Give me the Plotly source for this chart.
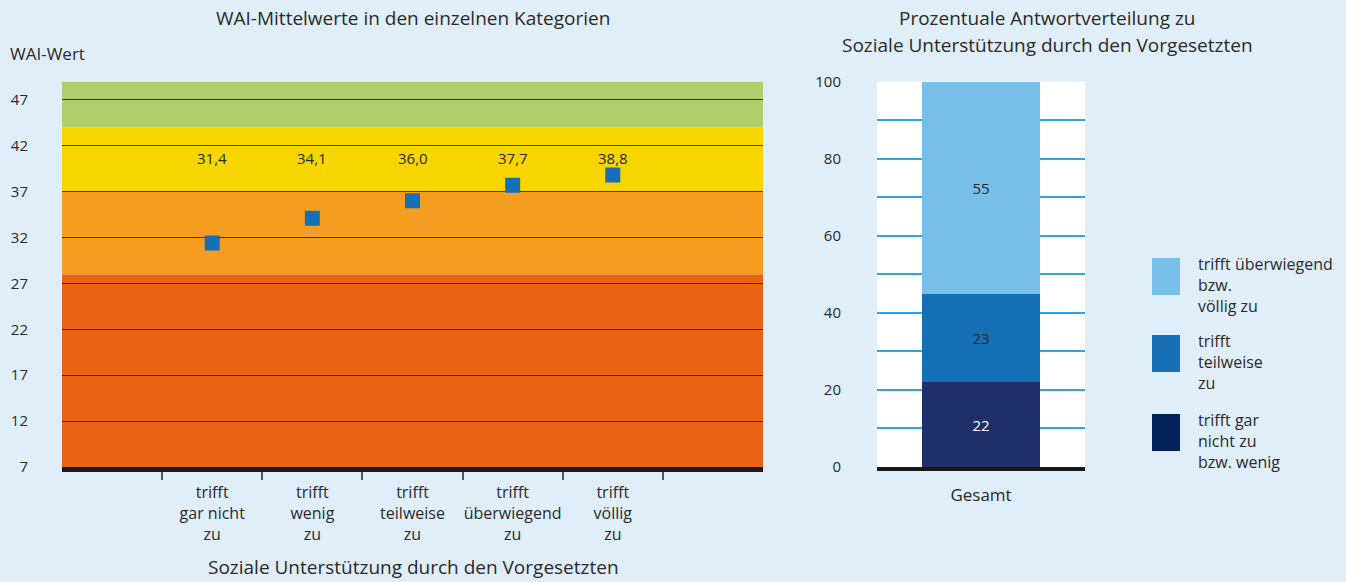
import plotly.graph_objects as go

# ---------------- data ----------------
categories = ["trifft<br>gar nicht<br>zu", "trifft<br>wenig<br>zu", "trifft<br>teilweise<br>zu",
              "trifft<br>überwiegend<br>zu", "trifft<br>völlig<br>zu"]
wai_means = [31.4, 34.1, 36.0, 37.7, 38.8]
wai_ticks = [7, 12, 17, 22, 27, 32, 37, 42, 47]
band_edges = [7, 28, 37, 44, 49]

share_names = ["trifft gar nicht zu bzw. wenig", "trifft teilweise zu", "trifft überwiegend bzw. völlig zu"]
share_values = [22, 23, 55]
share_category = ["Gesamt"]
pct_ticks = [0, 20, 40, 60, 80, 100]

legend_labels = ["trifft überwiegend<br>bzw.<br>völlig zu",
                 "trifft<br>teilweise<br>zu",
                 "trifft gar<br>nicht zu<br>bzw. wenig"]

# ---------------- styles ----------------
FONT = "Open Sans"
TXT = "#2a2a2a"
BG = "#e0eef9"
band_colors = ["#ea6315", "#f59d20", "#f7d600", "#aecf6c"]
bar_colors = ["#1f2f69", "#1670b6", "#77bee9"]
bar_text_colors = ["white", TXT, TXT]
legend_colors = ["#78bfe9", "#176fb5", "#00215a"]
W, H = 1346, 582


def px(x):
    return x / W


def py(y):
    return 1 - y / H


fig = go.Figure()

xpos = list(range(1, len(categories) + 1))
fig.add_trace(go.Scatter(
    x=xpos, y=wai_means, mode="markers",
    marker=dict(symbol="square", size=15, color="#1570b8", line=dict(width=0)),
    xaxis="x", yaxis="y", showlegend=False, hoverinfo="skip"))

# invisible trace for category labels axis
fig.add_trace(go.Scatter(x=xpos, y=wai_means, mode="markers", marker=dict(opacity=0),
                         xaxis="x3", yaxis="y", showlegend=False, hoverinfo="skip"))

for name, val, col, tcol in zip(share_names, share_values, bar_colors, bar_text_colors):
    fig.add_trace(go.Bar(
        x=share_category, y=[val], name=name, marker=dict(color=col, line=dict(width=0)),
        text=[str(val)], textposition="inside", insidetextanchor="middle",
        textfont=dict(family=FONT, size=15, color=tcol),
        xaxis="x2", yaxis="y2", showlegend=False, hoverinfo="skip"))

shapes = []
for i, col in enumerate(band_colors):
    shapes.append(dict(type="rect", xref="x domain", yref="y", x0=0, x1=1,
                       y0=band_edges[i], y1=band_edges[i + 1],
                       fillcolor=col, line=dict(width=0), layer="below"))

annotations = []
LABEL_Y = 40.7
for xv, v in zip(xpos, wai_means):
    annotations.append(dict(x=xv, y=LABEL_Y, xref="x", yref="y",
                            text=f"{v:.1f}".replace(".", ","), showarrow=False,
                            font=dict(family=FONT, size=15, color=TXT)))


def label(x, y, text, size=19, xanchor="center", align="center"):
    return dict(x=px(x), y=py(y), xref="paper", yref="paper", xanchor=xanchor, yanchor="middle",
                align=align, text=text, showarrow=False, font=dict(family=FONT, size=size, color=TXT))


annotations += [
    label(413, 18, "WAI-Mittelwerte in den einzelnen Kategorien"),
    label(8, 53, "WAI-Wert", size=17, xanchor="left"),
    label(413, 567, "Soziale Unterstützung durch den Vorgesetzten"),
    label(1047, 18, "Prozentuale Antwortverteilung zu"),
    label(1047, 45, "Soziale Unterstützung durch den Vorgesetzten"),
]

leg_tops = [258, 335, 414]
for top, col, lab in zip(leg_tops, legend_colors, legend_labels):
    shapes.append(dict(type="rect", xref="paper", yref="paper", x0=px(1152), x1=px(1180),
                       y0=py(top + 37), y1=py(top), fillcolor=col, line=dict(width=0)))
    annotations.append(label(1196, top + 27, lab, size=16, xanchor="left", align="left"))

YD = [py(467), py(81.5)]
fig.update_layout(
    template="none",
    width=W, height=H, margin=dict(l=0, r=0, t=0, b=0, pad=0, autoexpand=False),
    paper_bgcolor=BG, plot_bgcolor="white",
    font=dict(family=FONT, size=15, color=TXT),
    barmode="stack", bargap=0.43,
    xaxis=dict(domain=[px(62), px(763)], range=[0.5 - 1, len(categories) + 1.5], automargin=False,
               tickvals=[v + 0.5 for v in range(0, len(categories) + 1)], ticktext=[""] * (len(categories) + 1),
               ticks="outside", ticklen=8, tickwidth=1.5, tickcolor="#555",
               showgrid=False, zeroline=False, showline=True, linewidth=5, linecolor="#1a1a1a",
               fixedrange=True),
    xaxis3=dict(overlaying="x", side="bottom", range=[0.5 - 1, len(categories) + 1.5], automargin=False,
                tickvals=xpos, ticktext=categories, ticks="outside", ticklen=11,
                tickcolor="rgba(0,0,0,0)", showgrid=False, zeroline=False, showline=False,
                tickfont=dict(family=FONT, size=16, color=TXT)),
    yaxis=dict(domain=YD, range=[band_edges[0], band_edges[-1]], tickvals=wai_ticks, automargin=False,
               showgrid=True, gridcolor="rgba(25,25,20,0.8)", gridwidth=1.3, zeroline=False,
               ticks="outside", ticklen=30, tickcolor="rgba(0,0,0,0)",
               tickfont=dict(family=FONT, size=15, color=TXT), showline=False),
    xaxis2=dict(domain=[px(877), px(1085)], showgrid=False, zeroline=False, automargin=False,
                showline=True, linewidth=4, linecolor="#1a1a1a",
                ticks="outside", ticklen=10, tickcolor="rgba(0,0,0,0)",
                tickfont=dict(family=FONT, size=17, color=TXT)),
    yaxis2=dict(domain=YD, anchor="x2", range=[0, 100], tickvals=pct_ticks, automargin=False,
                showgrid=True, gridcolor="#2aa6e4", gridwidth=2, zeroline=False,
                minor=dict(dtick=10, showgrid=True, gridcolor="#2aa6e4", gridwidth=2),
                ticks="outside", ticklen=32, tickcolor="rgba(0,0,0,0)",
                tickfont=dict(family=FONT, size=15, color=TXT)),
    shapes=shapes, annotations=annotations,
)

fig.write_html("out.html", config={"displayModeBar": False},
               post_script="document.body.style.margin='0';document.body.style.overflow='hidden';"
                           "document.documentElement.style.overflow='hidden';")
